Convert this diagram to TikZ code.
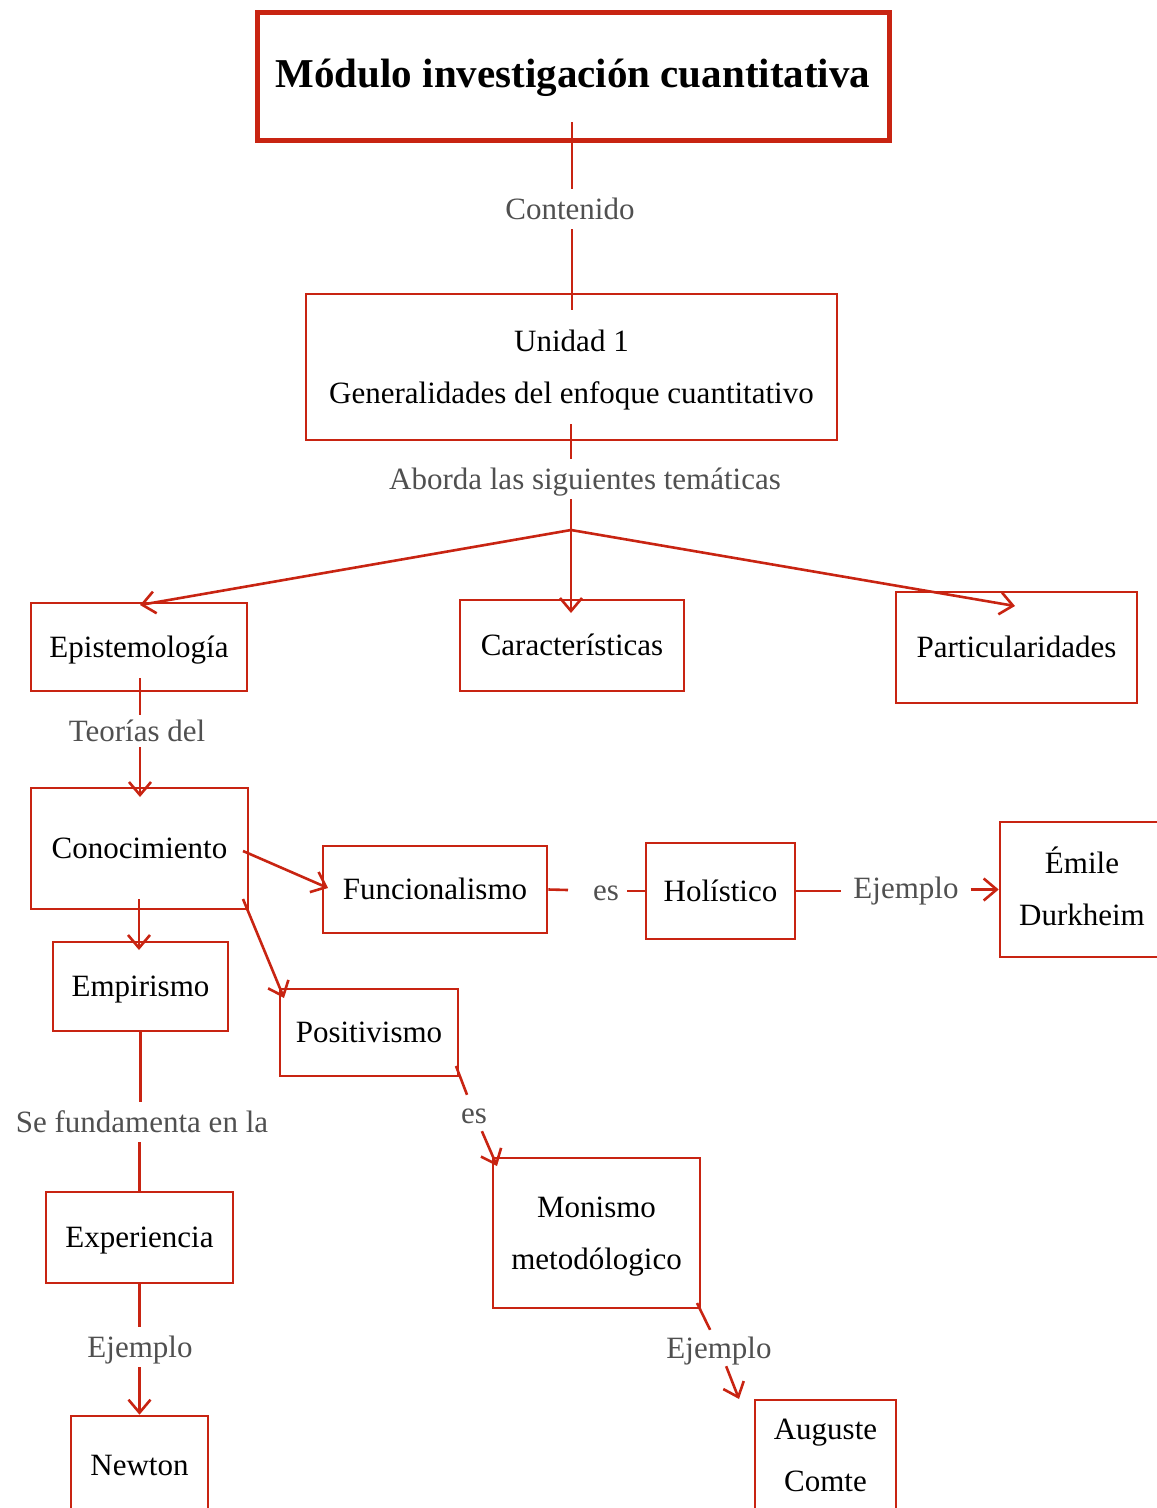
\documentclass[tikz,border=0pt]{standalone}
\usepackage{fontspec}
\setmainfont{Liberation Serif}
\usetikzlibrary{arrows.meta}
\definecolor{accent}{RGB}{200,36,18}
\definecolor{labelgray}{RGB}{80,80,80}
\newcommand{\toprule}{\rule{0pt}{28pt}}
\newcommand{\botrule}{\rule[-8pt]{0pt}{8pt}}
\tikzset{
  box/.style={draw=accent, line width=2.6pt, inner sep=0pt, align=center,
    font=\fontsize{31}{52}\selectfont},
  onebox/.style={box, text height=24pt, text depth=4pt},
  lbl/.style={text=labelgray, inner xsep=8pt, inner ysep=6pt,
    text height=24pt, text depth=4pt, font=\fontsize{31}{36}\selectfont},
  link/.style={draw=accent, line width=2.6pt},
  arr/.style={link, -{Straight Barb[length=13pt,width=22pt]}}
}
\begin{document}
\begin{tikzpicture}[x=1pt,y=-1pt]
\clip (0,0) rectangle (1157,1508);
\useasboundingbox (0,0) rectangle (1157,1508);

% boxes
\node[draw=accent, line width=5pt, minimum width=632pt, minimum height=128pt,
  inner sep=0pt, text height=28pt, text depth=6pt,
  font=\fontsize{41}{48}\selectfont\bfseries] (title) at (573,76)
  {Módulo investigación cuantitativa};
\node[box, minimum width=531pt, minimum height=146pt] (unidad) at (571.5,367)
  {\toprule Unidad 1\\Generalidades del enfoque cuantitativo\botrule};
\node[onebox, minimum width=216pt, minimum height=88pt] (epis) at (139,647) {Epistemología};
\node[onebox, minimum width=224pt, minimum height=91pt] (carac) at (572,645.5) {Características};
\node[onebox, minimum width=241pt, minimum height=111pt] (partic) at (1016.5,647.5) {Particularidades};
\node[onebox, minimum width=217pt, minimum height=121pt] (conoc) at (139.5,848.5) {Conocimiento};
\node[onebox, minimum width=224pt, minimum height=87pt] (funcional) at (435,889.5) {Funcionalismo};
\node[onebox, minimum width=149pt, minimum height=96pt] (holis) at (720.5,891) {Holístico};
\node[box, minimum width=164pt, minimum height=135pt] (emile) at (1082,889.5)
  {\toprule Émile\\Durkheim\botrule};
\node[onebox, minimum width=175pt, minimum height=89pt] (empir) at (140.5,986.5) {Empirismo};
\node[onebox, minimum width=178pt, minimum height=87pt] (posit) at (369,1032.5) {Positivismo};
\node[box, minimum width=207pt, minimum height=150pt] (monismo) at (596.5,1233)
  {\toprule Monismo\\metodólogico\botrule};
\node[box, minimum width=141pt, minimum height=110pt] (auguste) at (825.5,1455)
  {\toprule Auguste\\Comte\botrule};
\node[onebox, minimum width=187pt, minimum height=91pt] (exper) at (139.5,1237.5) {Experiencia};
\node[onebox, minimum width=137pt, minimum height=98pt] (newton) at (139.5,1465) {Newton};

% connector labels
\node[lbl] (contenido) at (570,209) {Contenido};
\node[lbl] (aborda) at (585,479) {Aborda las siguientes temáticas};
\node[lbl, inner ysep=2pt] (teorias) at (137,731) {Teorías del};
\node[lbl] (fund) at (142,1122) {Se fundamenta en la};
\node[lbl] (ej3) at (140,1347) {Ejemplo};
\node[lbl] (es1) at (606,890) {es};
\node[lbl, inner xsep=12pt] (ej1) at (906,888) {Ejemplo};
\node[lbl, inner sep=4pt] (es2) at (474,1113) {es};
\node[lbl, inner sep=4pt] (ej2) at (719,1348) {Ejemplo};

% connector end points
\coordinate (t-out) at (572,122);
\coordinate (u-in) at (572,310);
\coordinate (u-out) at (571,424);
\coordinate (j) at (571,530);
\coordinate (epis-in) at (140,605);
\coordinate (carac-in) at (571,613);
\coordinate (partic-in) at (1015,606);
\coordinate (epis-out) at (140,678);
\coordinate (conoc-in) at (140,797);
\coordinate (conoc-r) at (243,851);
\coordinate (func-in) at (328,888);
\coordinate (conoc-b) at (139,899);
\coordinate (empir-in) at (139,950);
\coordinate (conoc-c) at (243,899);
\coordinate (posit-in) at (284,998);
\coordinate (es1-l) at (568,890);
\coordinate (posit-out) at (456,1066);
\coordinate (mon-in) at (497,1166);
\coordinate (mon-out) at (697,1303);
\coordinate (aug-in) at (739,1399);

% connectors
\draw[link] (t-out) -- (t-out |- contenido.north);
\draw[link] (u-in |- contenido.south) -- (u-in);
\draw[link] (u-out) -- (u-out |- aborda.north);
\draw[link] (j |- aborda.south) -- (j);
\draw[arr] (j) -- (epis-in);
\draw[arr] (j) -- (carac-in);
\draw[arr] (j) -- (partic-in);
\draw[link] (epis-out) -- (epis-out |- teorias.north);
\draw[arr] (epis-out |- teorias.south) -- (conoc-in);
\draw[arr] (conoc-r) -- (func-in);
\draw[arr] (conoc-b) -- (empir-in);
\draw[arr] (conoc-c) -- (posit-in);
\draw[link] (funcional.east) -- (es1-l);
\draw[link] (holis.west -| es1.east) -- (holis.west);
\draw[link] (holis.east) -- (holis.east -| ej1.west);
\draw[arr] (emile.west -| ej1.east) -- (emile.west);
\draw[link] (posit-out) -- (es2);
\draw[arr] (es2) -- (mon-in);
\draw[link] (mon-out) -- (ej2);
\draw[arr] (ej2) -- (aug-in);
\draw[link] (empir.south) -- (empir.south |- fund.north);
\draw[link] (exper.north |- fund.south) -- (exper.north);
\draw[link] (exper.south) -- (exper.south |- ej3.north);
\draw[arr] (newton.north |- ej3.south) -- (newton.north);
\end{tikzpicture}
\end{document}
